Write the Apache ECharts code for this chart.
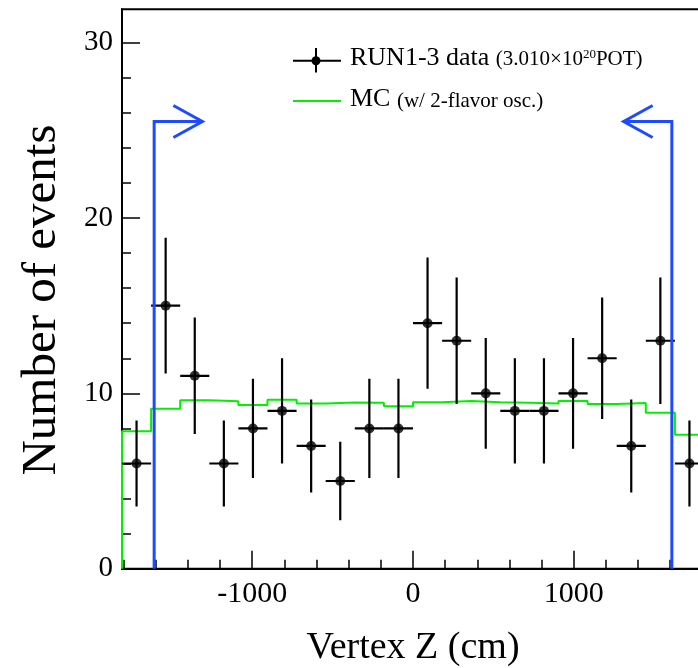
<!DOCTYPE html>
<html><head><meta charset="utf-8">
<script src="https://cdn.jsdelivr.net/npm/echarts@6/dist/echarts.min.js"></script>
<style>html,body{margin:0;padding:0;background:#fff}#c{width:698px;height:668px}</style>
</head><body><div id="c"></div>
<script>
// ---- data ----
const binEdges = [-1810,-1629,-1448,-1267,-1086,-905,-724,-543,-362,-181,0,181,362,543,724,905,1086,1267,1448,1629,1810];
const binCenters = [-1719.5,-1538.5,-1357.5,-1176.5,-995.5,-814.5,-633.5,-452.5,-271.5,-90.5,90.5,271.5,452.5,633.5,814.5,995.5,1176.5,1357.5,1538.5,1719.5];
const dataCounts = [6,15,11,6,8,9,7,5,8,8,14,13,10,9,9,10,12,7,13,6];
const dataErrors = [2.45,3.87,3.32,2.45,2.83,3.00,2.65,2.24,2.83,2.83,3.74,3.61,3.16,3.00,3.00,3.16,3.46,2.65,3.61,2.45];
const mcValues = [7.84,9.12,9.61,9.55,9.34,9.63,9.42,9.48,9.46,9.27,9.49,9.57,9.49,9.46,9.42,9.57,9.39,9.45,8.89,7.64];
const xRange = [-1810, 1810];
const yRange = [0, 31.9];
const xMajorTicks = [-1000, 0, 1000];
const xMinorTicks = [-1800,-1600,-1400,-1200,-1000,-800,-600,-400,-200,0,200,400,600,800,1000,1200,1400,1600,1800];
const yMajorTicks = [0, 10, 20, 30];
const yMinorTicks = [0,2,4,6,8,10,12,14,16,18,20,22,24,26,28,30];
const cutPositions = [-1610, 1610];
const cutDirections = [1, -1];
const cutHeight = 25.5;
const arrowLength = 300;
const xTitle = 'Vertex Z (cm)';
const yTitle = 'Number of events';
const legendData = ['RUN1-3 data ', '(3.010\u00d710', '20', 'POT)'];
const legendMC = ['MC ', '(w/ 2-flavor osc.)'];

const FONT = '"Liberation Serif","Times New Roman",serif';
const BLUE = '#1f4bff';
const GREEN = '#00f000';

// build derived tables
const errRows = binCenters.map((c, i) => [c, dataCounts[i], dataErrors[i], binEdges[i], binEdges[i + 1]]);
const pointRows = binCenters.map((c, i) => [c, dataCounts[i]]);
const mcLine = [[binEdges[0], 0]];
mcValues.forEach((v, i) => { mcLine.push([binEdges[i], v]); mcLine.push([binEdges[i + 1], v]); });
mcLine.push([binEdges[binEdges.length - 1], 0]);
const cutRows = cutPositions.map((p, i) => [p, cutHeight, cutDirections[i]]);

// text measuring for the legend layout
const mctx = document.createElement('canvas').getContext('2d');
function tw(t, size) { mctx.font = size + 'px ' + FONT; return mctx.measureText(t).width; }

const chart = echarts.init(document.getElementById('c'), null, { renderer: 'canvas' });

const BIG = 26, SMALL = 21, SUP = 13, K = 0.34;
function piece(text, x, base, size) {
  return { type: 'text', x: x, y: base - K * size, style: { text: text, font: size + 'px ' + FONT, fill: '#000', verticalAlign: 'middle', align: 'left' } };
}
const lx = 350, b1 = 66.7, b2 = 108.3;
let x1 = lx; const g = [];
g.push(piece(legendData[0], x1, b1, BIG)); x1 += tw(legendData[0], BIG);
g.push(piece(legendData[1], x1, b1, SMALL)); x1 += tw(legendData[1], SMALL);
g.push(piece(legendData[2], x1, b1 - 8, SUP)); x1 += tw(legendData[2], SUP);
g.push(piece(legendData[3], x1, b1, SMALL));
let x2 = lx;
g.push(piece(legendMC[0], x2, b2, BIG)); x2 += tw(legendMC[0], BIG);
g.push(piece(legendMC[1], x2, b2, SMALL));
// legend icons
g.push({ type: 'line', shape: { x1: 293, y1: 60.7, x2: 341, y2: 60.7 }, style: { stroke: '#000', lineWidth: 2 } });
g.push({ type: 'line', shape: { x1: 316, y1: 48, x2: 316, y2: 72.5 }, style: { stroke: '#000', lineWidth: 2 } });
g.push({ type: 'circle', shape: { cx: 316, cy: 60.7, r: 4.5 }, style: { fill: '#000' } });
g.push({ type: 'line', shape: { x1: 293, y1: 101, x2: 341, y2: 101 }, style: { stroke: GREEN, lineWidth: 2 } });

const gridL = 122, gridT = 9.3, gridW = 582, gridH = 559.4;
const plain = v => String(v);

const option = {
  animation: false,
  backgroundColor: '#fff',
  grid: { left: gridL, top: gridT, width: gridW, height: gridH, show: true, borderColor: '#000', borderWidth: 2, backgroundColor: 'transparent', containLabel: false, outerBoundsMode: 'none' },
  xAxis: [
    { type: 'value', min: xRange[0], max: xRange[1], position: 'bottom',
      name: xTitle, nameLocation: 'middle', nameGap: 60,
      nameTextStyle: { fontFamily: FONT, fontSize: 38, color: '#000' },
      axisLine: { show: true, onZero: false, lineStyle: { color: '#000', width: 2 } },
      axisTick: { show: true, inside: true, length: 18, customValues: xMajorTicks, lineStyle: { color: '#000', width: 1.5 } },
      axisLabel: { show: true, customValues: xMajorTicks, formatter: plain, margin: 10, fontFamily: FONT, fontSize: 30, color: '#000' },
      splitLine: { show: false } },
    { type: 'value', min: xRange[0], max: xRange[1], position: 'bottom', gridIndex: 0,
      axisLine: { show: false, onZero: false },
      axisTick: { show: true, inside: true, length: 9, customValues: xMinorTicks, lineStyle: { color: '#000', width: 1.5 } },
      axisLabel: { show: false }, splitLine: { show: false } }
  ],
  yAxis: [
    { type: 'value', min: yRange[0], max: yRange[1], position: 'left',
      name: yTitle, nameLocation: 'middle', nameGap: 55, nameRotate: 90,
      nameTextStyle: { fontFamily: FONT, fontSize: 49, color: '#000', padding: [0, 22, 0, 0] },
      axisLine: { show: true, onZero: false, lineStyle: { color: '#000', width: 2 } },
      axisTick: { show: true, inside: true, length: 18, customValues: yMajorTicks, lineStyle: { color: '#000', width: 1.5 } },
      axisLabel: { show: true, customValues: yMajorTicks, formatter: plain, margin: 9, fontFamily: FONT, fontSize: 29, color: '#000' },
      splitLine: { show: false } },
    { type: 'value', min: yRange[0], max: yRange[1], position: 'left', gridIndex: 0,
      axisLine: { show: false, onZero: false },
      axisTick: { show: true, inside: true, length: 9, customValues: yMinorTicks, lineStyle: { color: '#000', width: 1.5 } },
      axisLabel: { show: false }, splitLine: { show: false } }
  ],
  series: [
    { type: 'line', name: 'MC', data: mcLine, xAxisIndex: 0, yAxisIndex: 0, showSymbol: false, symbol: 'none',
      lineStyle: { color: GREEN, width: 2 }, z: 2, clip: true },
    { type: 'custom', name: 'errors', data: errRows, xAxisIndex: 0, yAxisIndex: 0, z: 3, clip: true,
      renderItem: function (params, api) {
        const x = api.value(0), y = api.value(1), e = api.value(2), lo = api.value(3), hi = api.value(4);
        const h1 = api.coord([lo, y]), h2 = api.coord([hi, y]);
        const v1 = api.coord([x, y - e]), v2 = api.coord([x, y + e]);
        const st = { stroke: '#000', lineWidth: 2.2 };
        return { type: 'group', children: [
          { type: 'line', shape: { x1: h1[0], y1: h1[1], x2: h2[0], y2: h2[1] }, style: st },
          { type: 'line', shape: { x1: v1[0], y1: v1[1], x2: v2[0], y2: v2[1] }, style: st }
        ] };
      } },
    { type: 'scatter', name: 'RUN1-3 data', data: pointRows, xAxisIndex: 0, yAxisIndex: 0, symbol: 'circle', symbolSize: 10,
      itemStyle: { color: '#000' }, z: 4 },
    { type: 'custom', name: 'cuts', data: cutRows, xAxisIndex: 0, yAxisIndex: 0, z: 5,
      renderItem: function (params, api) {
        const p = api.value(0), h = api.value(1), d = api.value(2);
        const base = api.coord([p, 0]), top = api.coord([p, h]), tip = api.coord([p + d * arrowLength, h]);
        const st = { stroke: BLUE, lineWidth: 3, fill: null, lineJoin: 'miter' };
        return { type: 'group', children: [
          { type: 'polyline', shape: { points: [base, top, tip] }, style: st },
          { type: 'polyline', shape: { points: [[tip[0] - d * 29, tip[1] - 16], tip, [tip[0] - d * 29, tip[1] + 16]] }, style: st }
        ] };
      } }
  ],
  graphic: { elements: g }
};
chart.setOption(option);
</script>
</body></html>
